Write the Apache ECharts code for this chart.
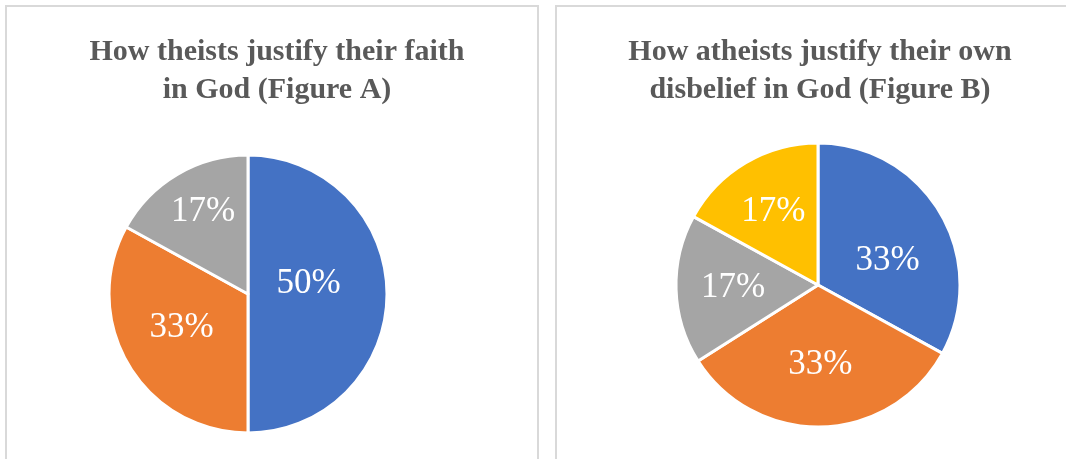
<!DOCTYPE html>
<html>
<head>
<meta charset="utf-8">
<script src="https://cdn.jsdelivr.net/npm/echarts@6/dist/echarts.min.js"></script>
<style>
html,body{margin:0;padding:0;background:#fff;}
#c{width:1066px;height:459px;}
</style>
</head>
<body>
<div id="c"></div>
<script>
// Data
const titleA = 'How theists justify their faith\nin God (Figure A)';
const titleB = 'How atheists justify their own\ndisbelief in God (Figure B)';
const categoriesA = ['Reason 1', 'Reason 2', 'Reason 3'];
const valuesA = [50, 33, 17];
const categoriesB = ['Reason 1', 'Reason 2', 'Reason 3', 'Reason 4'];
const valuesB = [33, 33, 17, 17];
const palette = ['#4472C4', '#ED7D31', '#A5A5A5', '#FFC000'];

// label nudges (style only), to mimic Excel "best fit" placement
const labelNudge = [
  [[-12, -10], [-4, -3], [-8, -20]],
  [[6, 13], [0, 6], [-11, 0], [-7, -9]]
];

const chart = echarts.init(document.getElementById('c'), null, {renderer: 'canvas'});

function pieData(cats, vals) {
  return cats.map((c, i) => ({name: c, value: vals[i], itemStyle: {color: palette[i]}}));
}

const titleStyle = {
  fontFamily: '"Liberation Serif", "Times New Roman", serif',
  fontWeight: 'bold',
  fontSize: 30,
  lineHeight: 38,
  color: '#595959'
};

const labelStyle = {
  show: true,
  position: 'inside',
  formatter: p => p.value + '%',
  color: '#ffffff',
  fontFamily: '"Liberation Serif", "Times New Roman", serif',
  fontSize: 35
};

function nudge(params) {
  const n = labelNudge[params.seriesIndex][params.dataIndex];
  return {dx: n[0], dy: n[1]};
}

chart.setOption({
  animation: false,
  graphic: [
    {type: 'rect', shape: {x: 6, y: 6, width: 532, height: 470}, style: {fill: 'none', stroke: '#D9D9D9', lineWidth: 2}},
    {type: 'rect', shape: {x: 556, y: 6, width: 530, height: 470}, style: {fill: 'none', stroke: '#D9D9D9', lineWidth: 2}}
  ],
  title: [
    {text: titleA, left: 272, top: 28, textAlign: 'center', textStyle: titleStyle},
    {text: titleB, left: 815, top: 28, textAlign: 'center', textStyle: titleStyle}
  ],
  series: [
    {
      type: 'pie',
      center: [248, 294],
      radius: 139,
      startAngle: 90,
      clockwise: true,
      data: pieData(categoriesA, valuesA),
      itemStyle: {borderColor: '#ffffff', borderWidth: 3},
      label: labelStyle,
      labelLine: {show: false},
      labelLayout: nudge,
      emphasis: {disabled: true}
    },
    {
      type: 'pie',
      center: [818, 285],
      radius: 142,
      startAngle: 90,
      clockwise: true,
      data: pieData(categoriesB, valuesB),
      itemStyle: {borderColor: '#ffffff', borderWidth: 3},
      label: labelStyle,
      labelLine: {show: false},
      labelLayout: nudge,
      emphasis: {disabled: true}
    }
  ]
});
</script>
</body>
</html>
